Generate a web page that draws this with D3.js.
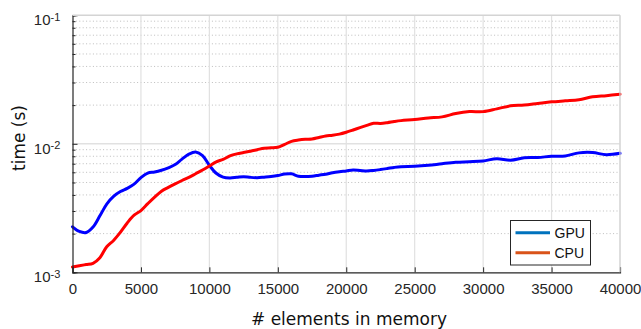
<!DOCTYPE html>
<html>
<head>
<meta charset="utf-8">
<script src="https://cdn.jsdelivr.net/npm/d3@7"></script>
<style>
  html, body { margin: 0; padding: 0; background: #fff; }
  svg { display: block; }
</style>
</head>
<body>
<svg id="chart" width="641" height="329"></svg>
<script>
// Number of elements held in memory (x positions of the samples)
const elements = [
  0, 500, 1000, 1500, 2000, 2500, 3000, 3500, 4000, 4500,
  5000, 5500, 6000, 6500, 7000, 7500, 8000, 8500, 9000, 9500,
  10000, 10500, 11000, 11500, 12000, 12500, 13000, 13500, 14000, 14500,
  15000, 15500, 16000, 16500, 17000, 17500, 18000, 18500, 19000, 19500,
  20000, 20500, 21000, 21500, 22000, 22500, 23000, 23500, 24000,
  25000, 26000, 27000, 28000, 29000, 30000, 31000, 32000, 33000, 34000,
  35000, 36000, 37000, 38000, 39000, 40000
];

// Run time in seconds on the GPU
const gpuTime = [
  2.26e-3, 2.08e-3, 2.04e-3, 2.25e-3, 2.75e-3, 3.40e-3, 3.90e-3, 4.25e-3, 4.50e-3, 4.85e-3,
  5.45e-3, 5.92e-3, 6.03e-3, 6.22e-3, 6.50e-3, 6.90e-3, 7.60e-3, 8.30e-3, 8.63e-3, 8.10e-3,
  6.80e-3, 5.90e-3, 5.50e-3, 5.42e-3, 5.48e-3, 5.55e-3, 5.48e-3, 5.45e-3, 5.50e-3, 5.56e-3,
  5.66e-3, 5.82e-3, 5.84e-3, 5.60e-3, 5.56e-3, 5.60e-3, 5.70e-3, 5.80e-3, 5.95e-3, 6.06e-3,
  6.15e-3, 6.25e-3, 6.20e-3, 6.14e-3, 6.20e-3, 6.30e-3, 6.42e-3, 6.55e-3, 6.64e-3,
  6.68e-3, 6.80e-3, 7.00e-3, 7.18e-3, 7.25e-3, 7.35e-3, 7.66e-3, 7.45e-3, 7.78e-3, 7.82e-3,
  8.00e-3, 8.05e-3, 8.50e-3, 8.55e-3, 8.22e-3, 8.43e-3
];

// Run time in seconds on the CPU
const cpuTime = [
  1.10e-3, 1.125e-3, 1.15e-3, 1.175e-3, 1.30e-3, 1.58e-3, 1.77e-3, 2.05e-3, 2.42e-3, 2.78e-3,
  3.02e-3, 3.42e-3, 3.85e-3, 4.28e-3, 4.58e-3, 4.88e-3, 5.18e-3, 5.48e-3, 5.85e-3, 6.25e-3,
  6.72e-3, 7.24e-3, 7.55e-3, 8.05e-3, 8.35e-3, 8.55e-3, 8.75e-3, 9.00e-3, 9.25e-3, 9.30e-3,
  9.40e-3, 9.90e-3, 1.045e-2, 1.07e-2, 1.085e-2, 1.09e-2, 1.12e-2, 1.15e-2, 1.165e-2, 1.19e-2,
  1.23e-2, 1.28e-2, 1.335e-2, 1.39e-2, 1.445e-2, 1.44e-2, 1.46e-2, 1.49e-2, 1.515e-2,
  1.545e-2, 1.59e-2, 1.62e-2, 1.72e-2, 1.78e-2, 1.78e-2, 1.87e-2, 1.975e-2, 2.00e-2, 2.06e-2,
  2.12e-2, 2.16e-2, 2.20e-2, 2.32e-2, 2.37e-2, 2.43e-2
];

const xTicks = [0, 5000, 10000, 15000, 20000, 25000, 30000, 35000, 40000];
const yDecades = [1e-3, 1e-2, 1e-1];
const yDecadeExponents = ["-3", "-2", "-1"];
const legendLabels = ["GPU", "CPU"];

const svg = d3.select("#chart");
const plotL = 72.5, plotR = 620, plotT = 15.3, plotB = 272.3;

const x = d3.scaleLinear().domain([0, 40000]).range([plotL, plotR]);
const y = d3.scaleLog().domain([1e-3, 1e-1]).range([plotB, plotT]);

const tickFont = "'Liberation Sans', Arial, sans-serif";
const labelFont = "'DejaVu Sans', Verdana, sans-serif";

// minor values 2..9 within each decade
const minorVals = [];
[1e-3, 1e-2].forEach(d => { for (let k = 2; k <= 9; k++) minorVals.push(k * d); });

const grid = svg.append("g");
// dotted minor horizontal grid
grid.selectAll("line.minor").data(minorVals).join("line")
  .attr("x1", plotL).attr("x2", plotR)
  .attr("y1", d => y(d)).attr("y2", d => y(d))
  .attr("stroke", "#bdbdbd").attr("stroke-width", 1)
  .attr("stroke-dasharray", "1,2.4");
// solid major vertical grid
grid.selectAll("line.vmajor").data(xTicks.slice(1)).join("line")
  .attr("x1", d => x(d)).attr("x2", d => x(d))
  .attr("y1", plotT).attr("y2", plotB)
  .attr("stroke", "#e1e1e1").attr("stroke-width", 1.2);
// solid major horizontal grid
grid.selectAll("line.hmajor").data(yDecades.slice(1)).join("line")
  .attr("x1", plotL).attr("x2", plotR)
  .attr("y1", d => y(d)).attr("y2", d => y(d))
  .attr("stroke", "#e1e1e1").attr("stroke-width", 1.4);

// series lines
const line = d3.line().curve(d3.curveCatmullRom.alpha(0.5))
  .x(d => x(d[0])).y(d => y(d[1]));

svg.append("path")
  .datum(elements.map((e, i) => [e, gpuTime[i]]))
  .attr("d", line).attr("fill", "none")
  .attr("stroke", "#0000ff").attr("stroke-width", 3)
  .attr("stroke-linejoin", "round").attr("stroke-linecap", "round");

svg.append("path")
  .datum(elements.map((e, i) => [e, cpuTime[i]]))
  .attr("d", line).attr("fill", "none")
  .attr("stroke", "#ff0000").attr("stroke-width", 3)
  .attr("stroke-linejoin", "round").attr("stroke-linecap", "round");

// axes
const xAxis = d3.axisBottom(x).tickValues(xTicks).tickSize(-5).tickPadding(11)
  .tickFormat(d3.format("d"));
const gx = svg.append("g").attr("transform", `translate(0,${plotB})`).call(xAxis);
gx.select(".domain").attr("stroke", "#262626").attr("stroke-width", 1.2);
gx.selectAll(".tick line").attr("stroke", "#262626");
gx.selectAll(".tick text").attr("font-family", tickFont).attr("font-size", 15)
  .attr("fill", "#262626");

const yAxis = d3.axisLeft(y).tickValues(minorVals.concat(yDecades)).tickSize(-3)
  .tickFormat("");
const gy = svg.append("g").attr("transform", `translate(${plotL},0)`).call(yAxis);
gy.select(".domain").attr("stroke", "#262626").attr("stroke-width", 1.2);
gy.selectAll(".tick line").attr("stroke", "#262626")
  .attr("x2", d => yDecades.includes(d) ? 5 : 3);

// y decade labels as 10^n
const ylab = svg.append("g");
yDecades.forEach((d, i) => {
  ylab.append("text").attr("x", 50.5).attr("y", y(d) + 9.7)
    .attr("text-anchor", "end").attr("font-family", tickFont).attr("font-size", 15)
    .attr("fill", "#262626").text("10");
  ylab.append("text").attr("x", 50.5).attr("y", y(d) + 5.2)
    .attr("text-anchor", "start").attr("font-family", tickFont).attr("font-size", 11)
    .attr("fill", "#262626").text(yDecadeExponents[i]);
});

// top and right box edges
svg.append("line").attr("x1", plotL).attr("x2", plotR).attr("y1", plotT).attr("y2", plotT)
  .attr("stroke", "#d4d4d4").attr("stroke-width", 1.2);
svg.append("line").attr("x1", plotR).attr("x2", plotR).attr("y1", plotT).attr("y2", plotB)
  .attr("stroke", "#d4d4d4").attr("stroke-width", 1.2);

// axis titles
svg.append("text").attr("x", 349).attr("y", 325).attr("text-anchor", "middle")
  .attr("font-family", labelFont).attr("font-size", 17).attr("fill", "#111")
  .text("# elements in memory");
svg.append("text").attr("transform", "translate(25,138) rotate(-90)")
  .attr("text-anchor", "middle")
  .attr("font-family", labelFont).attr("font-size", 17).attr("fill", "#111")
  .text("time (s)");

// legend
const legendColors = ["#0072bd", "#d95319"];
const lg = svg.append("g");
lg.append("rect").attr("x", 510.5).attr("y", 220.5).attr("width", 80).attr("height", 44.5)
  .attr("fill", "#fff").attr("stroke", "#262626").attr("stroke-width", 1);
legendLabels.forEach((t, i) => {
  const ly = 232.7 + i * 20;
  lg.append("line").attr("x1", 515.5).attr("x2", 550).attr("y1", ly).attr("y2", ly)
    .attr("stroke", legendColors[i]).attr("stroke-width", 3);
  lg.append("text").attr("x", 554.5).attr("y", ly + 5.3)
    .attr("font-family", tickFont).attr("font-size", 14).attr("fill", "#111").text(t);
});
</script>
</body>
</html>
